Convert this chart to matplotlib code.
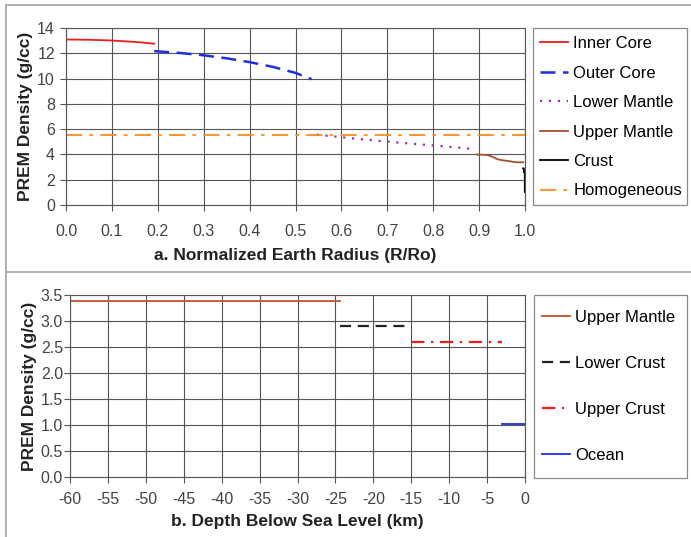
# PREM density profiles: whole Earth (top) and crust detail (bottom)
import matplotlib
matplotlib.use("Agg")
from matplotlib import pyplot as plt
from matplotlib.patches import Rectangle
from matplotlib.lines import Line2D

plt.rcParams['font.family'] = ['Liberation Sans', 'DejaVu Sans']
plt.rcParams['axes.unicode_minus'] = False

# ---- data (top panel: normalized radius vs density) ----
inner_x = [0.0, 0.05, 0.10, 0.15, 0.192]
inner_y = [13.09, 13.07, 13.01, 12.90, 12.76]
outer_x = [0.192, 0.25, 0.30, 0.35, 0.40, 0.45, 0.50, 0.535]
outer_y = [12.17, 12.02, 11.84, 11.60, 11.30, 10.93, 10.45, 9.95]
lower_x = [0.546, 0.60, 0.65, 0.70, 0.75, 0.80, 0.85, 0.885]
lower_y = [5.57, 5.36, 5.18, 5.01, 4.86, 4.71, 4.56, 4.44]
upper_x = [0.895, 0.91, 0.92, 0.93, 0.94, 0.95, 0.96, 0.97, 0.98, 0.99, 0.996]
upper_y = [3.99, 3.97, 3.94, 3.80, 3.62, 3.54, 3.50, 3.44, 3.38, 3.38, 3.38]
crust_x = [0.996, 0.9975, 0.9976, 0.9995, 0.9996, 1.0]
crust_y = [2.90, 2.90, 2.60, 2.60, 1.02, 1.02]
homog_x = [0.0, 1.0]
homog_y = [5.515, 5.515]

# ---- data (bottom panel: depth vs density) ----
um_depth = [-60, -24.4]
um_rho = [3.38, 3.38]
lc_depth = [-24.4, -15]
lc_rho = [2.90, 2.90]
uc_depth = [-15, -3]
uc_rho = [2.60, 2.60]
oc_depth = [-3, 0]
oc_rho = [1.02, 1.02]

W, H = 691, 537
fig = plt.figure(figsize=(6.91, 5.37), dpi=100)

def fx(px):
    return px / W

def fy(py):
    return 1 - py / H

# outer frame (left edge, top edge and the line between the panels)
frame_kw = dict(transform=fig.transFigure, color='#a8a8a8', linewidth=1.3)
fig.lines.append(Line2D([fx(6), fx(6)], [fy(5), 0], **frame_kw))
fig.lines.append(Line2D([fx(6), 1], [fy(5), fy(5)], **frame_kw))
fig.lines.append(Line2D([fx(6), 1], [fy(272), fy(272)], **frame_kw))

# legend boxes
for x0, y0, x1, y1 in [(533, 28, 687, 205), (534, 295, 687, 478)]:
    fig.patches.append(Rectangle((fx(x0), fy(y1)), fx(x1 - x0), (y1 - y0) / H,
                                 transform=fig.transFigure, fill=False,
                                 edgecolor='#8a8a8a', linewidth=0.9))

grid_kw = dict(color='#555555', linewidth=0.8)

def style(ax, xpad, ypad):
    ax.grid(True, **grid_kw)
    ax.set_axisbelow(True)
    for s in ax.spines.values():
        s.set_color('#555555')
        s.set_linewidth(0.8)
    ax.tick_params(direction='out', length=4, color='#555555', labelsize=11.5,
                   labelcolor='#444444')
    ax.tick_params(axis='x', pad=xpad)
    ax.tick_params(axis='y', pad=ypad)

lab_kw = dict(fontsize=12.5, fontweight='bold', color='#222222')
leg_kw = dict(loc='upper left', bbox_transform=fig.transFigure, fontsize=12,
              frameon=False, handlelength=1.7, handletextpad=0.3,
              borderaxespad=0, borderpad=0)

# top panel
ax1 = fig.add_axes([fx(66), fy(205), fx(459), 177 / H])
ax1.plot(inner_x, inner_y, color='#e8201c', lw=1.3, label='Inner Core')
ax1.plot(outer_x, outer_y, color='#1f2fe0', lw=1.8, ls=(0, (6, 3)), label='Outer Core')
ax1.plot(lower_x, lower_y, color='#9b30b0', lw=1.6, ls=(0, (1, 3)), label='Lower Mantle')
ax1.plot(upper_x, upper_y, color='#a0522d', lw=1.3, label='Upper Mantle')
ax1.plot(crust_x, crust_y, color='black', lw=1.3, label='Crust')
ax1.plot(homog_x, homog_y, color='#ff8c1a', lw=1.3, ls=(0, (9, 4, 2, 4)), label='Homogeneous')
ax1.set_xlim(0, 1.0)
ax1.set_ylim(0, 14)
ax1.set_xticks([i / 10 for i in range(11)])
ax1.set_xticklabels(['{:.1f}'.format(i / 10) for i in range(11)])
ax1.set_yticks(range(0, 15, 2))
style(ax1, 10, 4)
ax1.set_xlabel('a. Normalized Earth Radius (R/Ro)', labelpad=6, **lab_kw)
ax1.set_ylabel('PREM Density (g/cc)', labelpad=3, **lab_kw)
ax1.legend(bbox_to_anchor=(fx(540), fy(36)), labelspacing=0.87, **leg_kw)

# bottom panel
ax2 = fig.add_axes([fx(70), fy(477), fx(455), 182 / H])
ax2.plot(um_depth, um_rho, color='#c0502d', lw=1.3, label='Upper Mantle')
ax2.plot(lc_depth, lc_rho, color='#222222', lw=1.6, ls=(0, (5, 3)), label='Lower Crust')
ax2.plot(uc_depth, uc_rho, color='#e8201c', lw=1.6, ls=(0, (6, 3, 1, 3)), label='Upper Crust')
ax2.plot(oc_depth, oc_rho, color='#1f2fe0', lw=1.3, label='Ocean')
ax2.set_xlim(-60, 0)
ax2.set_ylim(0, 3.5)
ax2.set_xticks(range(-60, 1, 5))
ax2.set_yticks([i * 0.5 for i in range(8)])
ax2.set_yticklabels(['{:.1f}'.format(i * 0.5) for i in range(8)])
style(ax2, 7, 1)
ax2.set_xlabel('b. Depth Below Sea Level (km)', labelpad=5, **lab_kw)
ax2.set_ylabel('PREM Density (g/cc)', labelpad=3, **lab_kw)
ax2.legend(bbox_to_anchor=(fx(542), fy(310)), labelspacing=1.85, **leg_kw)

fig.savefig('out.png', dpi=100)
